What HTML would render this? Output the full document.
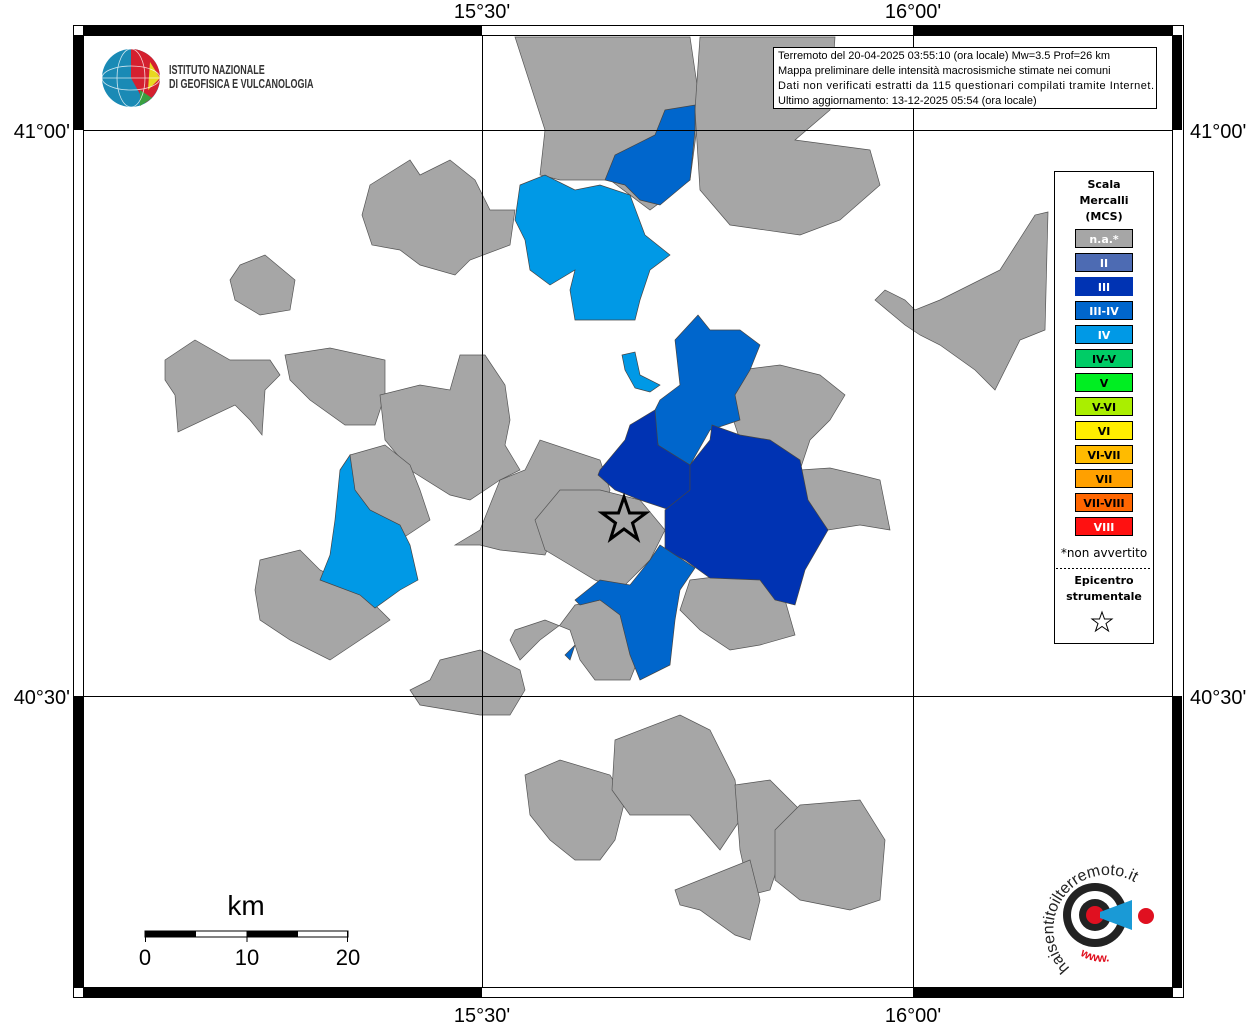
<!DOCTYPE html>
<html><head><meta charset="utf-8"><style>
body{margin:0;background:#fff;width:1256px;height:1024px;overflow:hidden}
svg{display:block}
text{font-family:"Liberation Sans","DejaVu Sans",sans-serif}
.lg{font-family:"DejaVu Sans",sans-serif;font-weight:bold;font-size:11px;text-anchor:middle}
</style></head><body>
<svg width="1256" height="1024" viewBox="0 0 1256 1024">
<rect x="73.5" y="25.5" width="1110" height="972" fill="#fff" stroke="#000"/>
<g fill="#a6a6a6" stroke="#555" stroke-width="0.7">
<path d="M515,37 L690,37 L700,105 L690,180 L650,210 L610,180 L560,180 L540,175 L545,130 Z"/>
<path d="M700,37 L835,37 L830,110 L795,140 L870,150 L880,185 L840,220 L800,235 L730,225 L700,190 L695,110 Z"/>
<path d="M370,185 L410,160 L420,175 L450,160 L475,180 L490,210 L515,210 L510,245 L470,260 L455,275 L420,265 L400,250 L372,245 L362,215 Z"/>
<path d="M240,265 L265,255 L295,280 L290,310 L260,315 L235,300 L230,280 Z"/>
<path d="M165,360 L195,340 L230,360 L270,360 L280,375 L265,390 L262,435 L250,420 L235,405 L178,432 L175,395 L165,380 Z"/>
<path d="M285,355 L330,348 L385,360 L385,395 L375,425 L345,425 L310,400 L290,380 Z"/>
<path d="M380,395 L420,385 L450,390 L460,355 L485,355 L505,385 L510,420 L505,445 L520,470 L500,480 L470,500 L450,495 L410,470 L385,440 Z"/>
<path d="M350,455 L385,445 L410,465 L420,490 L430,520 L400,540 L375,520 L350,500 Z"/>
<path d="M260,560 L300,550 L320,570 L360,590 L390,620 L360,640 L330,660 L290,640 L260,620 L255,590 Z"/>
<path d="M455,545 L480,530 L500,480 L525,470 L540,440 L600,460 L610,490 L600,520 L560,520 L545,555 L500,550 L480,545 Z"/>
<path d="M535,520 L560,490 L600,490 L640,500 L665,530 L650,560 L620,590 L595,580 L570,565 L545,550 Z"/>
<path d="M740,370 L780,365 L820,375 L845,395 L830,420 L810,440 L800,470 L770,455 L740,440 L730,410 Z"/>
<path d="M800,470 L830,468 L860,475 L880,480 L890,530 L860,525 L828,530 L805,500 Z"/>
<path d="M690,580 L770,570 L785,600 L795,635 L760,645 L730,650 L700,630 L680,610 Z"/>
<path d="M515,630 L545,620 L570,630 L580,660 L595,680 L630,680 L640,655 L620,610 L600,600 L575,605 L560,625 L540,640 L520,660 L510,640 Z"/>
<path d="M440,660 L480,650 L520,670 L525,690 L510,715 L480,715 L420,705 L410,690 L430,680 Z"/>
<path d="M525,775 L560,760 L610,775 L625,800 L615,840 L600,860 L575,860 L550,840 L530,815 Z"/>
<path d="M615,740 L680,715 L710,730 L735,780 L740,820 L720,850 L690,815 L630,815 L612,790 Z"/>
<path d="M735,785 L770,780 L800,810 L780,860 L770,890 L750,895 L740,850 Z"/>
<path d="M775,830 L800,805 L860,800 L885,840 L880,900 L850,910 L800,900 L775,880 Z"/>
<path d="M675,890 L750,860 L760,900 L750,940 L735,935 L700,910 L680,905 Z"/>
<path d="M875,300 L885,290 L905,300 L915,310 L940,300 L1000,270 L1035,215 L1048,212 L1045,330 L1020,340 L995,390 L975,370 L940,345 L920,335 L905,325 Z"/>
</g>
<g stroke="#444" stroke-width="0.7">
<path fill="#0066cc" d="M605,180 L615,155 L655,135 L665,110 L695,105 L695,130 L690,180 L660,205 L640,200 L625,185 Z"/>
<path fill="#0099e6" d="M520,185 L545,175 L575,190 L600,185 L630,195 L645,235 L670,255 L650,270 L640,300 L635,320 L600,320 L575,320 L570,290 L575,270 L550,285 L530,270 L525,240 L515,220 Z"/>
<path fill="#0099e6" d="M340,470 L350,455 L355,490 L370,510 L400,525 L410,545 L418,580 L400,590 L375,608 L360,595 L320,580 L330,555 L335,520 Z"/>
<path fill="#0099e6" d="M622,355 L635,352 L640,375 L660,385 L650,392 L635,388 L625,370 Z"/>
<path fill="#0066cc" d="M660,400 L680,385 L675,340 L698,315 L710,330 L740,330 L760,345 L750,370 L735,395 L740,420 L710,430 L690,465 L660,450 L650,420 Z"/>
<path fill="#0033b3" d="M600,470 L625,440 L630,425 L655,410 L658,445 L690,465 L690,490 L670,510 L640,500 L615,490 L598,475 Z"/>
<path fill="#0033b3" d="M690,465 L710,440 L712,425 L740,435 L770,440 L800,460 L808,500 L828,530 L805,570 L795,605 L775,600 L760,580 L710,578 L685,560 L665,550 L665,510 L690,490 Z"/>
<path fill="#0066cc" d="M575,600 L600,580 L630,585 L650,560 L660,545 L695,568 L680,590 L675,620 L670,665 L640,680 L630,655 L620,615 L600,600 L580,605 Z"/>
<path fill="#0066cc" d="M565,655 L575,645 L570,660 Z"/>
</g>
<g stroke="#000" stroke-width="1" fill="none">
<line x1="482.5" y1="35" x2="482.5" y2="988"/><line x1="913.5" y1="35" x2="913.5" y2="988"/>
<line x1="83" y1="130.5" x2="1173" y2="130.5"/><line x1="83" y1="696.5" x2="1173" y2="696.5"/>
<rect x="83.5" y="35.5" width="1089" height="952"/>
</g>
<g fill="#000">
<rect x="83" y="26" width="399" height="9"/><rect x="913" y="26" width="260" height="9"/>
<rect x="83" y="988" width="399" height="9"/><rect x="913" y="988" width="260" height="9"/>
<rect x="74" y="35" width="9" height="95"/><rect x="74" y="696" width="9" height="292"/>
<rect x="1173" y="35" width="9" height="95"/><rect x="1173" y="696" width="9" height="292"/>
</g>
<g font-size="20" fill="#000">
<text x="482" y="18" text-anchor="middle">15°30'</text><text x="913" y="18" text-anchor="middle">16°00'</text>
<text x="482" y="1022" text-anchor="middle">15°30'</text><text x="913" y="1022" text-anchor="middle">16°00'</text>
<text x="70" y="138" text-anchor="end">41°00'</text><text x="70" y="704" text-anchor="end">40°30'</text>
<text x="1190" y="138">41°00'</text><text x="1190" y="704">40°30'</text>
</g>
<circle cx="131" cy="78" r="29" fill="#1a8ab5"/>
<path d="M131,49 A29,29 0 0 1 160,78 A29,29 0 0 1 145,103 L131,78 Z" fill="#d4202f"/>
<path d="M150,62 L160,78 L148,90 Z" fill="#e8d820"/>
<path d="M140,90 L152,98 L140,106 Z" fill="#3aa040"/>
<g stroke="#fff" stroke-width="0.8" fill="none" opacity="0.8">
<ellipse cx="131" cy="78" rx="14" ry="29"/><line x1="102" y1="78" x2="160" y2="78"/><ellipse cx="131" cy="78" rx="29" ry="12"/>
</g>
<g transform="translate(169,74) scale(0.72,1)" fill="#333" font-size="12.5" font-weight="bold">
<text x="0" y="0">ISTITUTO NAZIONALE</text>
<text x="0" y="14">DI GEOFISICA E VULCANOLOGIA</text>
</g>
<rect x="773.5" y="47.5" width="383" height="61" fill="#fff" stroke="#000"/>
<g font-size="11" fill="#000">
<text x="778" y="59">Terremoto del 20-04-2025 03:55:10 (ora locale) Mw=3.5 Prof=26 km</text>
<text x="778" y="74">Mappa preliminare delle intensità macrosismiche stimate nei comuni</text>
<text x="778" y="89" textLength="376">Dati non verificati estratti da 115 questionari compilati tramite Internet.</text>
<text x="778" y="104">Ultimo aggiornamento: 13-12-2025 05:54 (ora locale)</text>
</g>
<rect x="1054.5" y="171.5" width="99" height="472" fill="#fff" stroke="#000"/>
<text class="lg" x="1104" y="188">Scala</text><text class="lg" x="1104" y="204">Mercalli</text><text class="lg" x="1104" y="220">(MCS)</text>
<g stroke="#000" stroke-width="1">
<rect x="1075.5" y="229.5" width="57" height="18" fill="#a6a6a6"/>
<rect x="1075.5" y="253.5" width="57" height="18" fill="#4d6bb3"/>
<rect x="1075.5" y="277.5" width="57" height="18" fill="#0033b3" stroke="#0033b3"/>
<rect x="1075.5" y="301.5" width="57" height="18" fill="#0066cc"/>
<rect x="1075.5" y="325.5" width="57" height="18" fill="#0099e6"/>
<rect x="1075.5" y="349.5" width="57" height="18" fill="#00cc66"/>
<rect x="1075.5" y="373.5" width="57" height="18" fill="#00ee22"/>
<rect x="1075.5" y="397.5" width="57" height="18" fill="#aaee00"/>
<rect x="1075.5" y="421.5" width="57" height="18" fill="#ffee00"/>
<rect x="1075.5" y="445.5" width="57" height="18" fill="#ffbb00"/>
<rect x="1075.5" y="469.5" width="57" height="18" fill="#ffa000"/>
<rect x="1075.5" y="493.5" width="57" height="18" fill="#ff6600"/>
<rect x="1075.5" y="517.5" width="57" height="18" fill="#ff1111"/>
</g>
<text class="lg" x="1104" y="243" fill="#fff">n.a.*</text>
<text class="lg" x="1104" y="267" fill="#fff">II</text>
<text class="lg" x="1104" y="291" fill="#fff">III</text>
<text class="lg" x="1104" y="315" fill="#fff">III-IV</text>
<text class="lg" x="1104" y="339" fill="#fff">IV</text>
<text class="lg" x="1104" y="363">IV-V</text>
<text class="lg" x="1104" y="387">V</text>
<text class="lg" x="1104" y="411">V-VI</text>
<text class="lg" x="1104" y="435">VI</text>
<text class="lg" x="1104" y="459">VI-VII</text>
<text class="lg" x="1104" y="483">VII</text>
<text class="lg" x="1104" y="507">VII-VIII</text>
<text class="lg" x="1104" y="531" fill="#fff">VIII</text>
<text x="1104" y="557" font-size="12" text-anchor="middle" style="font-family:'DejaVu Sans',sans-serif">*non avvertito</text>
<line x1="1056" y1="568.5" x2="1152" y2="568.5" stroke="#000" stroke-dasharray="2,2"/>
<text class="lg" x="1104" y="584">Epicentro</text><text class="lg" x="1104" y="600">strumentale</text>
<polygon points="1102,612 1104.5,619 1112,619 1106,623.5 1108.5,631 1102,626.5 1095.5,631 1098,623.5 1092,619 1099.5,619" fill="#fff" stroke="#000"/>
<polygon points="624,497 629.5,513 646,513 632.5,523 637.5,539 624,529 610.5,539 615.5,523 602,513 618.5,513" fill="none" stroke="#000" stroke-width="3"/>
<text x="246" y="915" font-size="28" text-anchor="middle">km</text>
<rect x="145" y="931" width="203" height="6" fill="#fff" stroke="#000"/>
<rect x="145" y="931" width="51" height="6" fill="#000"/><rect x="247" y="931" width="51" height="6" fill="#000"/>
<line x1="145.5" y1="931" x2="145.5" y2="942" stroke="#000"/><line x1="247" y1="931" x2="247" y2="942" stroke="#000"/><line x1="347.5" y1="931" x2="347.5" y2="942" stroke="#000"/>
<g font-size="22" text-anchor="middle"><text x="145" y="965">0</text><text x="247" y="965">10</text><text x="348" y="965">20</text></g>
<defs><path id="arc" d="M1070,968 A45,45 0 1 1 1145,890"/><path id="arc2" d="M1080,955 A40,40 0 0 0 1135,945"/></defs>
<circle cx="1095" cy="915" r="32" fill="#222"/>
<circle cx="1095" cy="915" r="24" fill="#fff"/>
<circle cx="1095" cy="915" r="16" fill="#222"/>
<circle cx="1095" cy="915" r="9" fill="#e01020"/>
<polygon points="1100,912 1132,900 1132,930 1100,918" fill="#1a9ad6"/>
<circle cx="1146" cy="916" r="8" fill="#e01020"/>
<text font-size="16" fill="#222"><textPath href="#arc">haisentitoilterremoto.it</textPath></text>
<text font-size="12" fill="#e01020" font-weight="bold"><textPath href="#arc2">www.</textPath></text>
</svg>
</body></html>
